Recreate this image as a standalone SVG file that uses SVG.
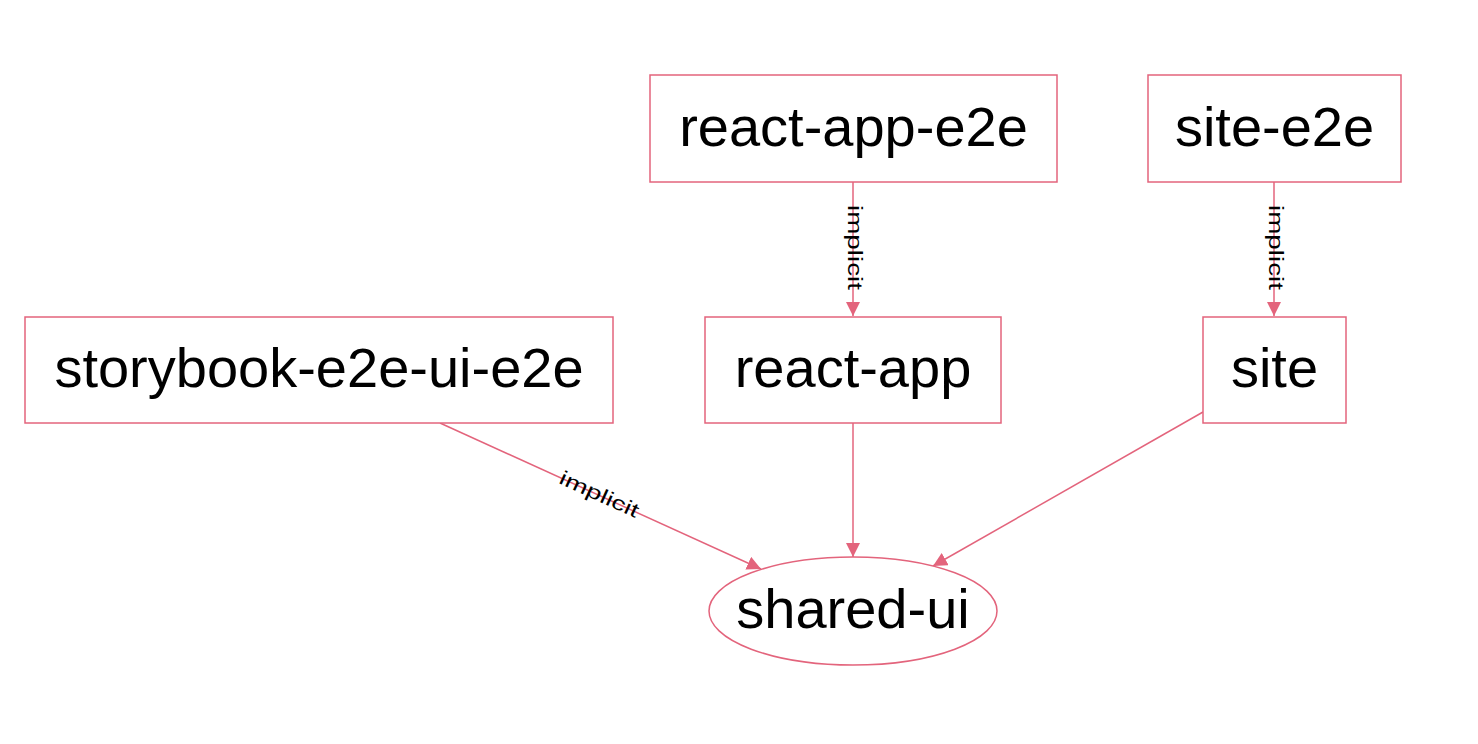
<svg xmlns="http://www.w3.org/2000/svg" width="1478" height="744" viewBox="0 0 1478 744">
  <style>
    .box { fill: #ffffff; stroke: #e3647c; stroke-width: 1.5; }
    .lbl { font-family: "Liberation Sans", Arial, Helvetica, sans-serif; font-size: 56px; fill: #000000; text-anchor: middle; }
    .edge { stroke: #e3647c; stroke-width: 1.5; fill: none; marker-end: url(#arrow); }
    .elbl { font-family: "Liberation Sans", Arial, Helvetica, sans-serif; font-size: 20px; fill: #000000; text-anchor: middle; }
  </style>
  <defs>
    <marker id="arrow" markerUnits="userSpaceOnUse" markerWidth="14" markerHeight="14" refX="14" refY="7" orient="auto">
      <path d="M0,0 L14,7 L0,14 Z" fill="#e3647c"/>
    </marker>
  </defs>
  <rect width="1478" height="744" fill="#ffffff"/>

  <g id="connectors">
    <line class="edge" x1="853" y1="182" x2="853" y2="316"/>
    <line class="edge" x1="1274" y1="182" x2="1274" y2="316"/>
    <line class="edge" x1="440" y1="423" x2="761" y2="569"/>
    <line class="edge" x1="853" y1="423" x2="853" y2="557"/>
    <line class="edge" x1="1203" y1="412" x2="933" y2="566"/>
    <text class="elbl" transform="translate(854,247.5) rotate(90)" y="6" textLength="85" lengthAdjust="spacingAndGlyphs">implicit</text>
    <text class="elbl" transform="translate(1275,247.5) rotate(90)" y="6" textLength="85" lengthAdjust="spacingAndGlyphs">implicit</text>
    <text class="elbl" transform="translate(599,495) rotate(24.5)" y="6" textLength="85" lengthAdjust="spacingAndGlyphs">implicit</text>
  </g>

  <g id="node-react-app-e2e">
    <rect class="box" x="650" y="75" width="407" height="107"/>
    <text class="lbl" x="853.5" y="146">react-app-e2e</text>
  </g>
  <g id="node-site-e2e">
    <rect class="box" x="1148" y="75" width="253" height="107"/>
    <text class="lbl" x="1274.5" y="146">site-e2e</text>
  </g>
  <g id="node-storybook-e2e-ui-e2e">
    <rect class="box" x="25" y="317" width="588" height="106"/>
    <text class="lbl" x="319" y="387">storybook-e2e-ui-e2e</text>
  </g>
  <g id="node-react-app">
    <rect class="box" x="705" y="317" width="296" height="106"/>
    <text class="lbl" x="853" y="387">react-app</text>
  </g>
  <g id="node-site">
    <rect class="box" x="1203" y="317" width="143" height="106"/>
    <text class="lbl" x="1274.5" y="387">site</text>
  </g>
  <g id="node-shared-ui">
    <ellipse class="box" cx="853" cy="611" rx="144" ry="54"/>
    <text class="lbl" x="853" y="628">shared-ui</text>
  </g>
</svg>
